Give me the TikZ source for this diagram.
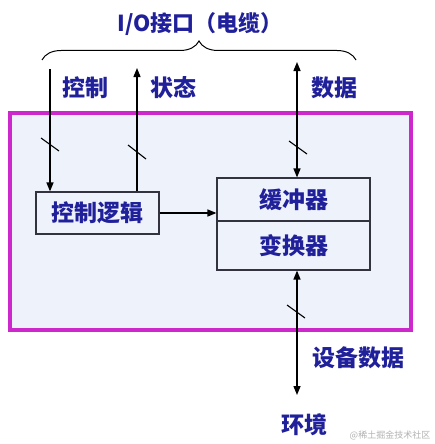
\documentclass[tikz,border=0pt]{standalone}
\usepackage{fontspec}
\newfontfamily\cjk{Noto Sans CJK SC}
\usetikzlibrary{arrows.meta,decorations.pathreplacing}
\definecolor{txtblue}{HTML}{20209A}
\definecolor{magframe}{HTML}{CC28CC}
\definecolor{bgfill}{HTML}{EEF2FB}
\definecolor{boxline}{HTML}{333340}
\tikzset{
  lbl/.style={font=\cjk\bfseries\fontsize{23}{26}\selectfont, text=txtblue, inner sep=0pt},
  blk/.style={draw=boxline, line width=1.1pt, fill=bgfill, font=\cjk\bfseries\fontsize{23}{26}\selectfont, text=txtblue, inner sep=0pt},
  arr/.style={line width=1.4pt, -{Triangle[length=9pt,width=7pt]}},
  arrboth/.style={line width=1.4pt, {Triangle[length=9pt,width=7pt]}-{Triangle[length=9pt,width=7pt]}},
  tick/.style={line width=1.1pt},
}
\begin{document}
\begin{tikzpicture}[x=1pt,y=-1pt]
\useasboundingbox[fill=white] (0,0) rectangle (434,444);
% frame
\draw[magframe, line width=3.2pt, fill=bgfill] (10,113) rectangle (411,330);
% blocks
\node[blk, minimum width=123pt, minimum height=42pt] (ctrl) at (97.5,213) {控制逻辑};
\node[blk, minimum width=153pt, minimum height=43pt] (buf) at (293.5,199.5) {缓冲器};
\node[blk, minimum width=153pt, minimum height=49pt] (conv) at (293.5,245.5) {变换器};
% labels
\node[lbl, font=\cjk\bfseries\fontsize{22}{25}\selectfont] (title) at (200,24) {I/O接口（电缆）};
\node[lbl] (lctrl) at (85,88) {控制};
\node[lbl] (lstat) at (173,88) {状态};
\node[lbl] (ldata) at (334,88) {数据};
\node[lbl] (ldev) at (358,358) {设备数据};
\node[lbl] (lenv) at (304,425) {环境};
\node[font=\cjk\fontsize{9}{10}\selectfont, text=gray!60, inner sep=0pt] (wm) at (390,435) {@稀土掘金技术社区};
% brace
\coordinate (bl) at (42,60);
\coordinate (br) at (356,60);
\draw[line width=1pt, decorate, decoration={brace, amplitude=19pt}] (bl) -- (br);
% connectors
\coordinate (ctop) at (50,69);
\coordinate (stop) at (137,68);
\coordinate (dtop) at (297,62);
\coordinate (env) at (297,395);
\draw[arr] (ctop) -- (ctop |- ctrl.north);
\draw[arr] (ctrl.north -| stop) -- (stop);
\draw[arrboth] (dtop) -- (dtop |- buf.north);
\draw[arrboth] (conv.south -| env) -- (env);
\draw[arr] (ctrl.east) -- (ctrl.east -| buf.west);
% bus ticks
\draw[tick] (41,138) -- (59,151);
\draw[tick] (128,145) -- (146,159);
\draw[tick] (289,141) -- (307,154);
\draw[tick] (287,305) -- (305,318);
\end{tikzpicture}
\end{document}
